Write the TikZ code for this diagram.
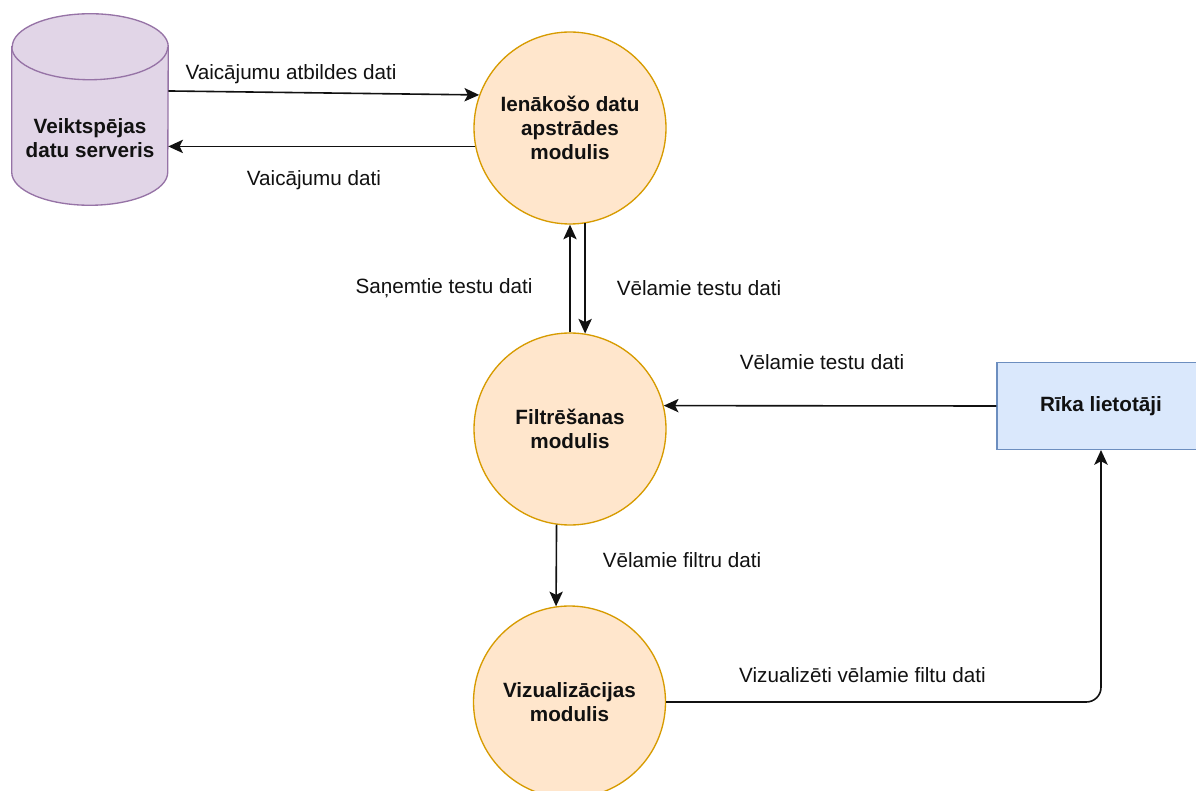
\documentclass[tikz,border=0pt]{standalone}
\usepackage{fontspec}
\setmainfont{Liberation Sans}
\usetikzlibrary{arrows.meta,backgrounds,calc}
\definecolor{procfill}{HTML}{FFE6CC}
\definecolor{procline}{HTML}{D79B00}
\definecolor{dbfill}{HTML}{E1D5E7}
\definecolor{dbline}{HTML}{9673A6}
\definecolor{actfill}{HTML}{DAE8FC}
\definecolor{actline}{HTML}{6C8EBF}
\definecolor{ink}{HTML}{111111}
\begin{document}
\begin{tikzpicture}[x=0.75pt,y=-0.75pt,
  txt/.style={font=\fontsize{15.5}{18}\selectfont, text=ink},
  btxt/.style={font=\fontsize{15.5}{18}\selectfont\bfseries, text=ink, align=center},
  proc/.style={circle, draw=procline, fill=procfill, line width=1pt,
               minimum size=144pt, inner sep=0pt, btxt},
  actor/.style={rectangle, draw=actline, fill=actfill, line width=1pt,
                minimum width=156pt, minimum height=65pt, btxt},
  flow/.style={line width=1.2pt, draw=ink, -{Stealth[length=11pt,width=10pt,inset=2.5pt]}},
  lbl/.style={txt, inner sep=0pt}]
\useasboundingbox (0,0) rectangle (1196,791);

% data server (cylinder body holder and its label)
\node[inner sep=0pt, minimum width=117pt, minimum height=143.25pt] (srv) at (90,109.5) {};
\node[btxt, inner sep=0pt] (srvtxt) at (90,138.5) {Veiktspējas\\datu serveris};
\begin{scope}[on background layer]
  \path[draw=dbline, fill=dbfill, line width=1pt]
    ([yshift=-24.75pt]srv.north west) -- ([yshift=24.75pt]srv.south west)
    arc[start angle=180, end angle=360, x radius=58.5pt, y radius=24.75pt]
    -- ([yshift=-24.75pt]srv.north east)
    arc[start angle=0, end angle=180, x radius=58.5pt, y radius=24.75pt] -- cycle;
  \draw[dbline, line width=1pt] ([yshift=-24.75pt]srv.north west)
    arc[start angle=180, end angle=360, x radius=58.5pt, y radius=24.75pt];
\end{scope}

% processes
\node[proc] (in)   at (570,128)   {Ienākošo datu\\apstrādes\\modulis};
\node[proc] (filt) at (570,429)   {Filtrēšanas\\modulis};
\node[proc] (vis)  at (569.5,702) {Vizualizācijas\\modulis};

% external actor
\node[actor] (ru) at (1101,406) {Rīka lietotāji};

% data flows
\draw[flow] ([yshift=13.9pt]srv.east) -- (in.160);
\draw[flow] (in.191) -- (in.191 -| srv.east);
\draw[flow] (filt.north) -- (in.south);
\draw[flow] (in.279) -- (filt.81);
\draw[flow] (filt.262) -- (vis.98);
\draw[flow] (ru.west) -- (filt.14);
\draw[flow, rounded corners=11pt] (vis.east) -- (vis.east -| ru.south) -- (ru.south);

% flow labels
\node[lbl] (l1) at (291,74)    {Vaicājumu atbildes dati};
\node[lbl] (l2) at (314,180)   {Vaicājumu dati};
\node[lbl] (l3) at (444,288)   {Saņemtie testu dati};
\node[lbl] (l4) at (699,288)   {Vēlamie testu dati};
\node[lbl] (l5) at (822,362)   {Vēlamie testu dati};
\node[lbl] (l6) at (682,560)   {Vēlamie filtru dati};
\node[lbl] (l7) at (862.5,675) {Vizualizēti vēlamie filtu dati};
\end{tikzpicture}
\end{document}
